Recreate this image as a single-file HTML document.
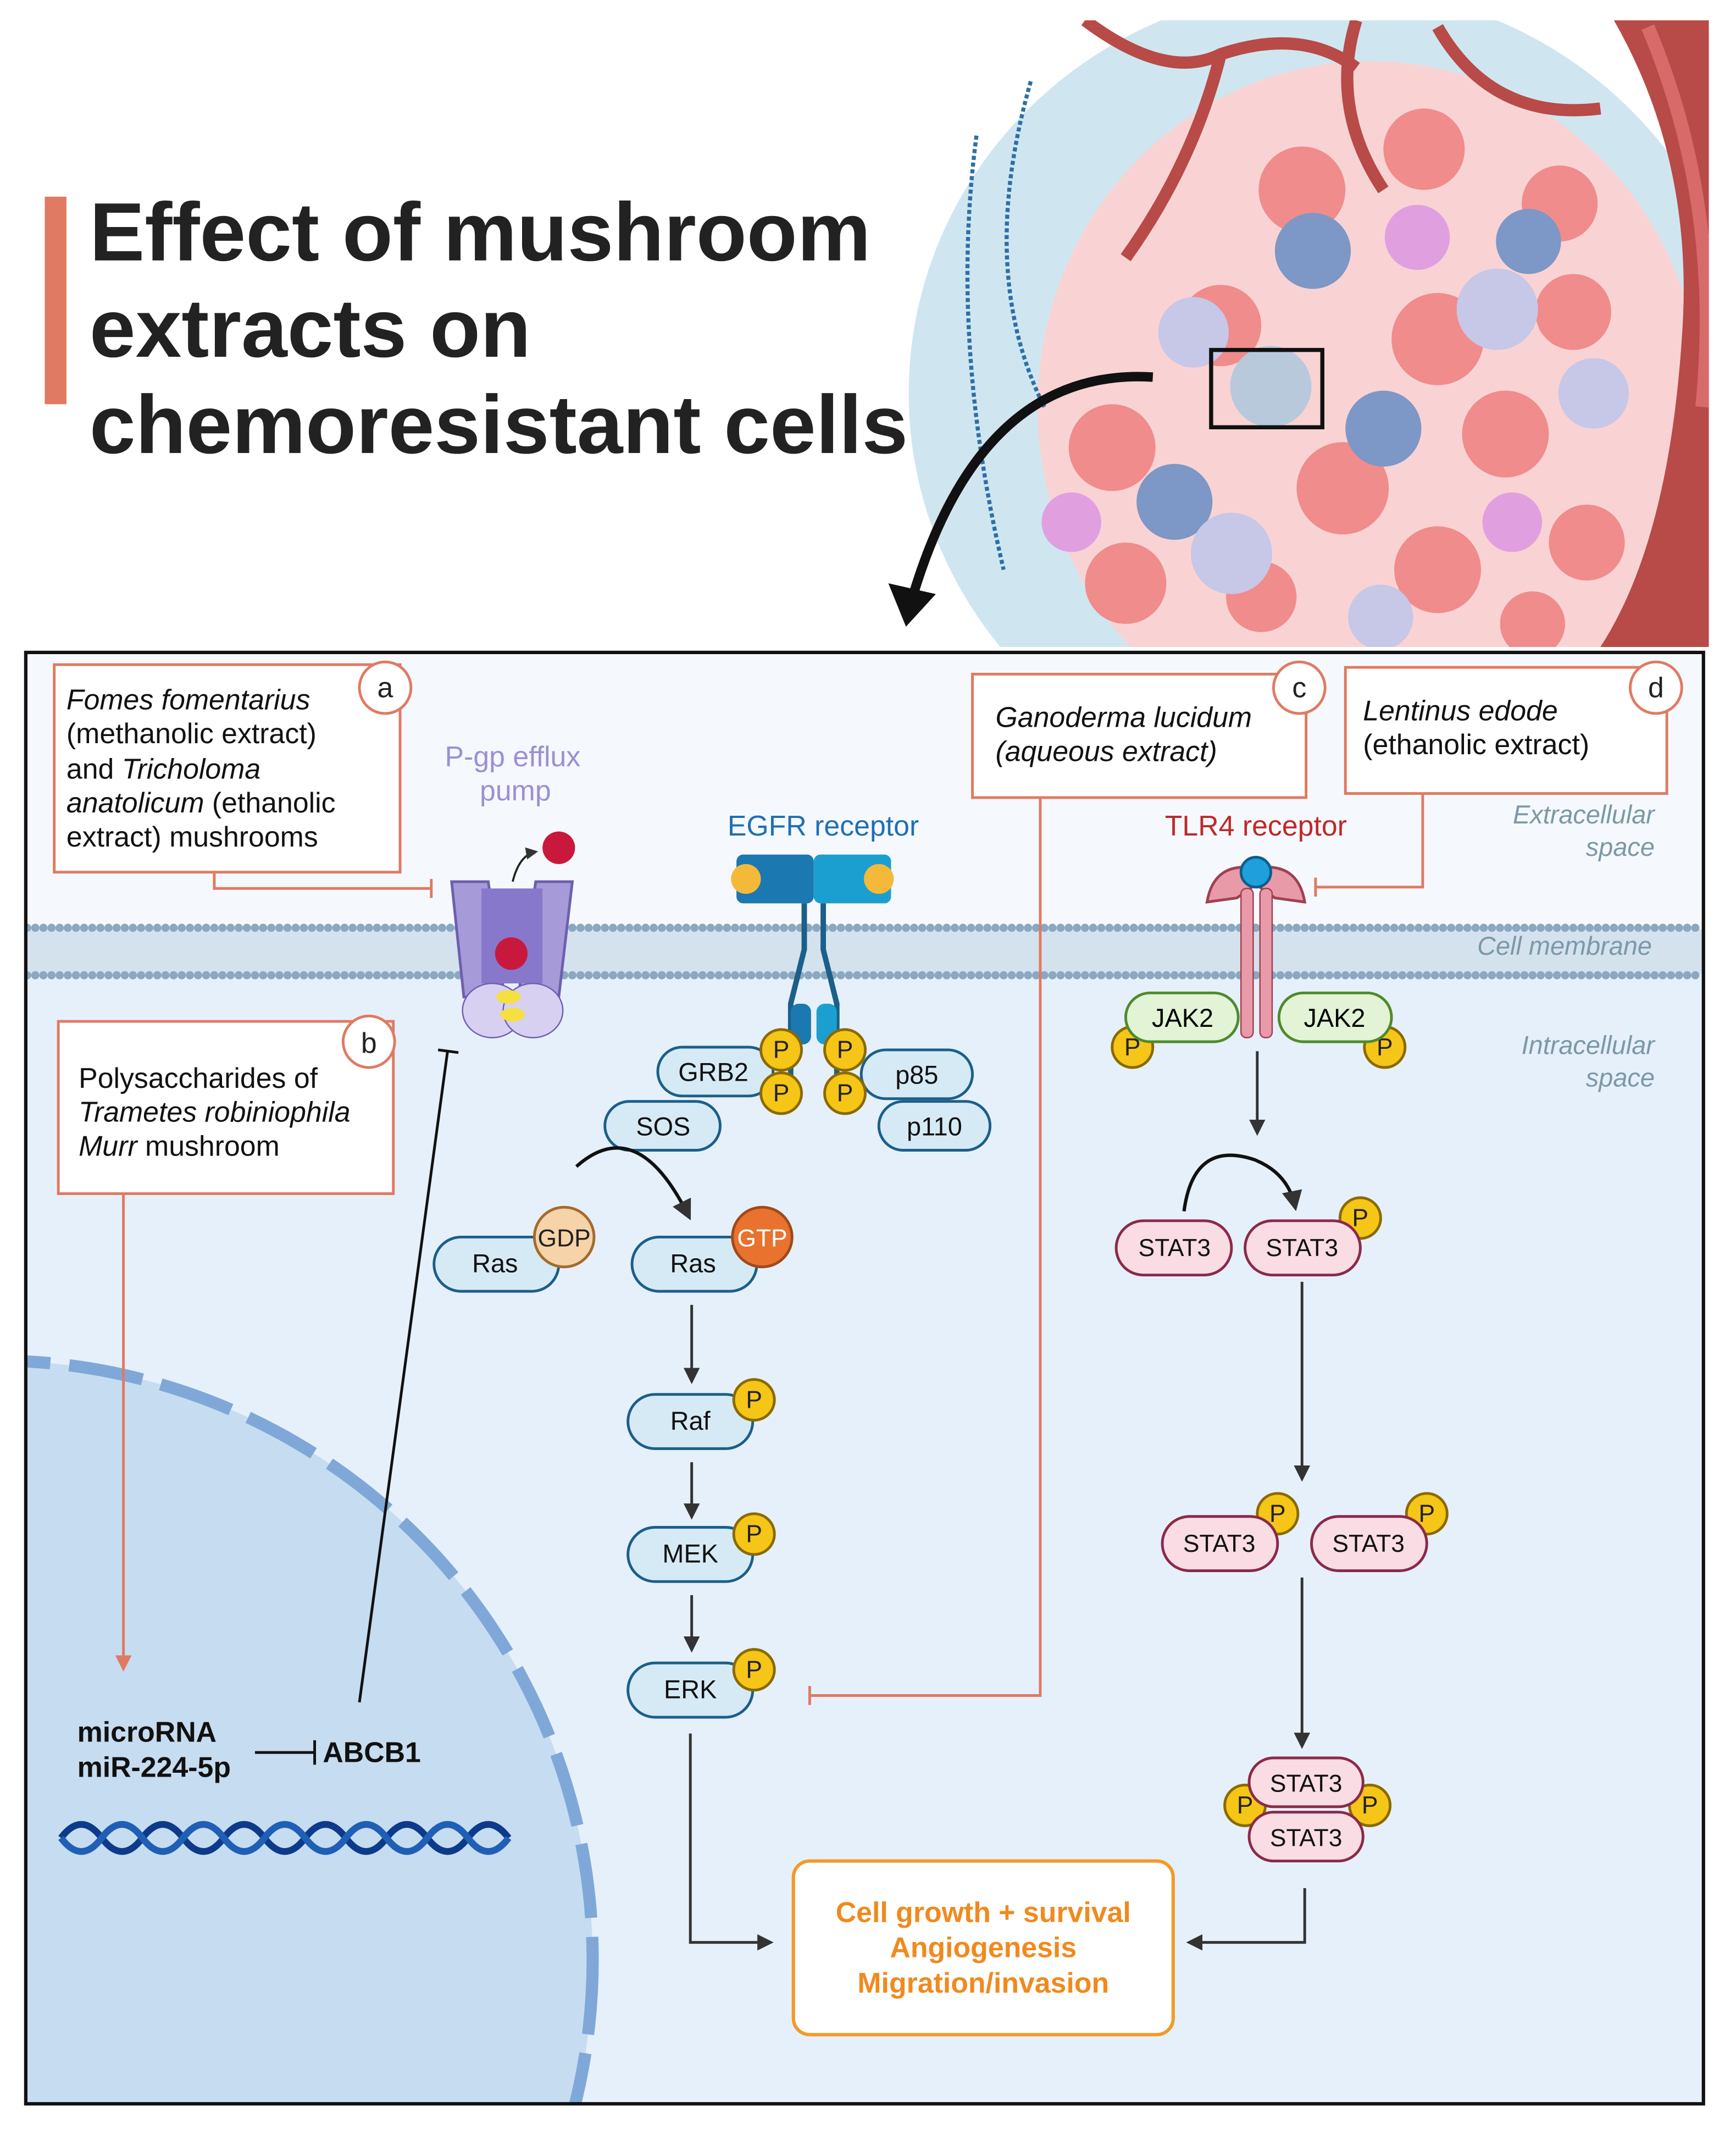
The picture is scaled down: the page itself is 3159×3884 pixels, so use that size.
<!DOCTYPE html>
<html><head><meta charset="utf-8"><style>
html,body{margin:0;padding:0;background:#fff;width:3159px;height:3884px;overflow:hidden}
svg{display:block}
text{font-family:"Liberation Sans",sans-serif}
</style></head><body>
<svg width="3159" height="3884" viewBox="0 0 1280 1574" preserveAspectRatio="none" xmlns="http://www.w3.org/2000/svg">
<defs>
<marker id="ah" viewBox="0 0 10 10" refX="8" refY="5" markerWidth="6" markerHeight="6" orient="auto"><path d="M0,0L10,5L0,10z" fill="#333"/></marker>
<marker id="aho" viewBox="0 0 10 10" refX="8" refY="5" markerWidth="6" markerHeight="6" orient="auto"><path d="M0,0L10,5L0,10z" fill="#e07a62"/></marker>
<clipPath id="bx"><rect x="20" y="482" width="1235" height="1068"/></clipPath>
<clipPath id="tum"><rect x="660" y="15" width="600" height="462"/></clipPath>
</defs>
<rect width="1280" height="1574" fill="#fff"/>
<rect x="33" y="145" width="16" height="153" fill="#e07a62"/>
<text x="66" y="192" font-size="61" font-weight="bold" fill="#222">Effect of mushroom</text>
<text x="66" y="263" font-size="61" font-weight="bold" fill="#222">extracts on</text>
<text x="66" y="334" font-size="61" font-weight="bold" fill="#222">chemoresistant cells</text>
<g clip-path="url(#tum)">
<ellipse cx="980" cy="290" rx="310" ry="300" fill="#cfe6f0"/>
<ellipse cx="1010" cy="300" rx="245" ry="255" fill="#f9d3d3"/>
<path d="M1190,15 Q1250,120 1240,250 Q1230,400 1180,477 L1260,477 L1260,15z" fill="#b84a48"/>
<path d="M1215,20 Q1270,150 1255,300" stroke="#d96a6a" stroke-width="10" fill="none"/>
<g fill="#f08c8c">
<circle cx="960" cy="140" r="32"/><circle cx="1050" cy="110" r="30"/><circle cx="1150" cy="150" r="28"/><circle cx="900" cy="240" r="30"/><circle cx="1060" cy="250" r="34"/><circle cx="1160" cy="230" r="28"/><circle cx="820" cy="330" r="32"/><circle cx="1110" cy="320" r="32"/><circle cx="990" cy="360" r="34"/><circle cx="1060" cy="420" r="32"/><circle cx="830" cy="430" r="30"/><circle cx="1170" cy="400" r="28"/><circle cx="930" cy="440" r="26"/><circle cx="1130" cy="460" r="24"/>
</g>
<g fill="#7d97c6"><circle cx="968" cy="185" r="28"/><circle cx="1020" cy="316" r="28"/><circle cx="866" cy="370" r="28"/><circle cx="1127" cy="178" r="24"/></g>
<g fill="#c7c7e8"><circle cx="1104" cy="228" r="30"/><circle cx="908" cy="408" r="30"/><circle cx="880" cy="245" r="26"/><circle cx="1175" cy="290" r="26"/><circle cx="1018" cy="455" r="24"/></g>
<g fill="#e0a0e0"><circle cx="1045" cy="175" r="24"/><circle cx="790" cy="385" r="22"/><circle cx="1115" cy="385" r="22"/></g>
<circle cx="937" cy="285" r="30" fill="#b9c9dc"/>
<path d="M800,15 Q860,60 900,40 Q960,20 1000,50 M1000,15 Q980,80 1020,140 M900,40 Q880,120 830,190 M1060,20 Q1100,90 1180,80" stroke="#b84a48" stroke-width="9" fill="none"/>
<path d="M720,100 Q700,250 740,420 M760,60 Q720,200 770,300" stroke="#2d6fa8" stroke-width="3" stroke-dasharray="3 2" fill="none"/>
<rect x="893" y="258" width="82" height="57" fill="none" stroke="#111" stroke-width="3"/>
</g>
<path d="M850,278 Q720,270 670,450" stroke="#111" stroke-width="7" fill="none"/>
<path d="M655,430 L668,462 L690,438z" fill="#111"/>
<g clip-path="url(#bx)">
<rect x="20" y="482" width="1235" height="1068" fill="#f5f9fd"/>
<rect x="20" y="700" width="1235" height="850" fill="#e6f0fa"/>
<circle cx="-5" cy="1445" r="442" fill="#c6dcf0"/>
<circle cx="-5" cy="1445" r="442" fill="none" stroke="#7fa8d8" stroke-width="9" stroke-dasharray="55 14"/>
<rect x="20" y="685" width="1235" height="33" fill="#d4e2ee"/>
<line x1="20" y1="684" x2="1255" y2="684" stroke="#8aa8c0" stroke-width="6" stroke-dasharray="0 6" stroke-linecap="round"/>
<line x1="20" y1="719" x2="1255" y2="719" stroke="#8aa8c0" stroke-width="6" stroke-dasharray="0 6" stroke-linecap="round"/>
</g>
<rect x="19" y="481" width="1237" height="1070" fill="none" stroke="#111" stroke-width="2.5"/>
<text x="1220" y="607" font-size="19" font-style="italic" fill="#7c98a8" text-anchor="end">Extracellular</text>
<text x="1220" y="631" font-size="19" font-style="italic" fill="#7c98a8" text-anchor="end">space</text>
<text x="1218" y="704" font-size="19" font-style="italic" fill="#7c98a8" text-anchor="end">Cell membrane</text>
<text x="1220" y="777" font-size="19" font-style="italic" fill="#7c98a8" text-anchor="end">Intracellular</text>
<text x="1220" y="801" font-size="19" font-style="italic" fill="#7c98a8" text-anchor="end">space</text>
<g fill="#fff" stroke="#e07a62" stroke-width="2">
<rect x="40" y="490" width="255" height="153"/>
<rect x="43" y="753" width="247" height="127"/>
<rect x="717" y="497" width="246" height="91"/>
<rect x="992" y="492" width="237" height="93"/>
<circle cx="284" cy="507" r="19"/><circle cx="272" cy="768" r="19"/><circle cx="958" cy="507" r="19"/><circle cx="1221" cy="507" r="19"/>
</g>
<g font-size="21" fill="#222" text-anchor="middle"><text x="284" y="514">a</text><text x="272" y="776">b</text><text x="958" y="514">c</text><text x="1221" y="514">d</text></g>
<g font-size="21" fill="#111">
<text x="49" y="523" font-style="italic">Fomes fomentarius</text>
<text x="49" y="548">(methanolic extract)</text>
<text x="49" y="574">and <tspan font-style="italic">Tricholoma</tspan></text>
<text x="49" y="599"><tspan font-style="italic">anatolicum</tspan> (ethanolic</text>
<text x="49" y="624">extract) mushrooms</text>
<text x="58" y="802">Polysaccharides of</text>
<text x="58" y="827" font-style="italic">Trametes robiniophila</text>
<text x="58" y="852"><tspan font-style="italic">Murr</tspan> mushroom</text>
<text x="734" y="536" font-style="italic">Ganoderma lucidum</text>
<text x="734" y="561" font-style="italic">(aqueous extract)</text>
<text x="1005" y="531" font-style="italic">Lentinus edode</text>
<text x="1005" y="556">(ethanolic extract)</text>
</g>
<g stroke="#e07a62" stroke-width="2" fill="none">
<polyline points="158,643 158,655 318,655"/><line x1="318" y1="648" x2="318" y2="662"/>
<polyline points="767,588 767,1250 597,1250"/><line x1="597" y1="1243" x2="597" y2="1257"/>
<polyline points="1049,585 1049,654 970,654"/><line x1="970" y1="647" x2="970" y2="661"/>
<line x1="91" y1="880" x2="91" y2="1230" marker-end="url(#aho)"/>
</g>
<text x="378" y="565" font-size="21" fill="#9b8fd6" text-anchor="middle">P-gp efflux</text>
<text x="380" y="590" font-size="21" fill="#9b8fd6" text-anchor="middle">pump</text>
<path d="M333,650 L360,650 L372,735 L342,735z" fill="#a79ad8" stroke="#6d5fb0" stroke-width="2"/>
<path d="M395,650 L422,650 L412,735 L382,735z" fill="#a79ad8" stroke="#6d5fb0" stroke-width="2"/>
<rect x="355" y="655" width="45" height="70" fill="#8878cc"/>
<ellipse cx="363" cy="745" rx="22" ry="20" fill="#d8d0f0" stroke="#6d5fb0"/>
<ellipse cx="393" cy="745" rx="22" ry="20" fill="#d8d0f0" stroke="#6d5fb0"/>
<ellipse cx="375" cy="735" rx="9" ry="5" fill="#f5e040"/><ellipse cx="378" cy="748" rx="9" ry="5" fill="#f5e040"/>
<circle cx="377" cy="703" r="12" fill="#c8193c"/><circle cx="412" cy="625" r="12" fill="#c8193c"/>
<path d="M378,650 Q383,630 395,628" stroke="#222" stroke-width="1.5" fill="none" marker-end="url(#ah)"/>
<line x1="265" y1="1255" x2="330" y2="775" stroke="#111" stroke-width="2"/><line x1="323" y1="774" x2="338" y2="776" stroke="#111" stroke-width="2"/>
<text x="607" y="616" font-size="21" fill="#1f6fb5" text-anchor="middle">EGFR receptor</text>
<rect x="543" y="630" width="57" height="36" rx="5" fill="#1b78b0"/><rect x="600" y="630" width="57" height="36" rx="5" fill="#1b9fd0"/>
<circle cx="550" cy="648" r="11" fill="#f5b93a"/><circle cx="648" cy="648" r="11" fill="#f5b93a"/>
<path d="M593,666 L593,700 L583,740 L583,800 M607,666 L607,700 L617,740 L617,800" stroke="#1b5f8a" stroke-width="4" fill="none"/>
<rect x="583" y="740" width="15" height="30" rx="6" fill="#1b78b0"/><rect x="602" y="740" width="15" height="30" rx="6" fill="#1b9fd0"/>
<g fill="#d6eaf6" stroke="#1b5f8a" stroke-width="2">
<rect x="485" y="772" width="85" height="36" rx="18"/><rect x="446" y="812" width="85" height="36" rx="18"/>
<rect x="635" y="774" width="82" height="36" rx="18"/><rect x="648" y="812" width="82" height="36" rx="18"/>
<rect x="320" y="912" width="92" height="40" rx="20"/><rect x="466" y="912" width="92" height="40" rx="20"/>
<rect x="463" y="1028" width="92" height="40" rx="20"/><rect x="463" y="1126" width="92" height="40" rx="20"/><rect x="463" y="1226" width="92" height="40" rx="20"/>
</g>
<g font-size="19" fill="#111" text-anchor="middle">
<text x="526" y="797">GRB2</text><text x="489" y="837">SOS</text><text x="676" y="799">p85</text><text x="689" y="837">p110</text>
<text x="365" y="938">Ras</text><text x="511" y="938">Ras</text><text x="509" y="1054">Raf</text><text x="509" y="1152">MEK</text><text x="509" y="1252">ERK</text>
</g>
<circle cx="416" cy="912" r="22" fill="#f6d3a8" stroke="#a56a2c" stroke-width="2"/><text x="416" y="919" font-size="18" text-anchor="middle" fill="#222">GDP</text>
<circle cx="562" cy="912" r="22" fill="#e8722e" stroke="#a04a1a" stroke-width="2"/><text x="562" y="919" font-size="18" text-anchor="middle" fill="#fff">GTP</text>
<path d="M425,860 Q470,820 508,897" stroke="#111" stroke-width="2.5" fill="none" marker-end="url(#ah)"/>
<g stroke="#333" stroke-width="2" marker-end="url(#ah)"><line x1="510" y1="962" x2="510" y2="1018"/><line x1="510" y1="1078" x2="510" y2="1118"/><line x1="510" y1="1176" x2="510" y2="1216"/></g>
<polyline points="509,1278 509,1432 568,1432" stroke="#333" stroke-width="2" fill="none" marker-end="url(#ah)"/>
<g fill="#f5c518" stroke="#8a6a00" stroke-width="2">
<circle cx="576" cy="774" r="15"/><circle cx="576" cy="806" r="15"/><circle cx="623" cy="774" r="15"/><circle cx="623" cy="806" r="15"/>
<circle cx="556" cy="1032" r="15"/><circle cx="556" cy="1131" r="15"/><circle cx="556" cy="1231" r="15"/>
<circle cx="835" cy="772" r="15"/><circle cx="1021" cy="772" r="15"/>
<circle cx="1003" cy="898" r="15"/><circle cx="942" cy="1116" r="15"/><circle cx="1052" cy="1116" r="15"/>
<circle cx="918" cy="1331" r="15"/><circle cx="1010" cy="1331" r="15"/>
</g>
<g font-size="18" fill="#222" text-anchor="middle">
<text x="576" y="780">P</text><text x="576" y="812">P</text><text x="623" y="780">P</text><text x="623" y="812">P</text>
<text x="556" y="1038">P</text><text x="556" y="1137">P</text><text x="556" y="1237">P</text>
<text x="835" y="778">P</text><text x="1021" y="778">P</text><text x="1003" y="904">P</text><text x="942" y="1122">P</text><text x="1052" y="1122">P</text>
<text x="918" y="1337">P</text><text x="1010" y="1337">P</text>
</g>
<text x="926" y="616" font-size="21" fill="#c0282a" text-anchor="middle">TLR4 receptor</text>
<path d="M890,665 Q895,635 926,640 Q957,635 962,665 L940,662 L926,652 L912,662z" fill="#e89aa8" stroke="#a04050" stroke-width="2"/>
<rect x="915" y="655" width="9" height="110" rx="4" fill="#e89aa8" stroke="#a04050"/><rect x="929" y="655" width="9" height="110" rx="4" fill="#e89aa8" stroke="#a04050"/>
<circle cx="926" cy="643" r="11" fill="#1fa0dc" stroke="#0d5f8a" stroke-width="2"/>
<rect x="830" y="732" width="83" height="36" rx="18" fill="#e2f3d6" stroke="#4f8a2c" stroke-width="2"/>
<rect x="943" y="732" width="83" height="36" rx="18" fill="#e2f3d6" stroke="#4f8a2c" stroke-width="2"/>
<text x="872" y="757" font-size="19" text-anchor="middle">JAK2</text><text x="984" y="757" font-size="19" text-anchor="middle">JAK2</text>
<line x1="927" y1="775" x2="927" y2="835" stroke="#333" stroke-width="2" marker-end="url(#ah)"/>
<g fill="#f9dce4" stroke="#8a2a48" stroke-width="2">
<rect x="823" y="900" width="85" height="40" rx="20"/><rect x="918" y="900" width="85" height="40" rx="20"/>
<rect x="857" y="1118" width="85" height="40" rx="20"/><rect x="967" y="1118" width="85" height="40" rx="20"/>
<rect x="921" y="1296" width="84" height="36" rx="18"/><rect x="921" y="1336" width="84" height="36" rx="18"/>
</g>
<g font-size="18" fill="#111" text-anchor="middle">
<text x="866" y="926">STAT3</text><text x="960" y="926">STAT3</text><text x="899" y="1144">STAT3</text><text x="1009" y="1144">STAT3</text>
<text x="963" y="1321">STAT3</text><text x="963" y="1361">STAT3</text>
</g>
<path d="M873,893 Q880,840 925,855 Q950,865 955,890" stroke="#111" stroke-width="2.5" fill="none" marker-end="url(#ah)"/>
<g stroke="#333" stroke-width="2" marker-end="url(#ah)"><line x1="960" y1="945" x2="960" y2="1090"/><line x1="960" y1="1163" x2="960" y2="1287"/></g>
<polyline points="962,1392 962,1432 877,1432" stroke="#333" stroke-width="2" fill="none" marker-end="url(#ah)"/>
<rect x="585" y="1372" width="280" height="128" rx="12" fill="#fff" stroke="#f39a2a" stroke-width="2.5"/>
<g font-size="21" font-weight="bold" fill="#f08a1e" text-anchor="middle">
<text x="725" y="1417">Cell growth + survival</text><text x="725" y="1443">Angiogenesis</text><text x="725" y="1469">Migration/invasion</text>
</g>
<text x="57" y="1284" font-size="21" font-weight="bold" fill="#111">microRNA</text>
<text x="57" y="1310" font-size="21" font-weight="bold" fill="#111">miR-224-5p</text>
<line x1="188" y1="1292" x2="232" y2="1292" stroke="#111" stroke-width="2"/><line x1="232" y1="1283" x2="232" y2="1301" stroke="#111" stroke-width="2"/>
<text x="238" y="1299" font-size="21" font-weight="bold" fill="#111">ABCB1</text>
<path d="M45,1355 Q60,1335 75,1355 T105,1355 T135,1355 T165,1355 T195,1355 T225,1355 T255,1355 T285,1355 T315,1355 T345,1355 T375,1355" stroke="#0d3a8a" stroke-width="5" fill="none"/>
<path d="M45,1355 Q60,1375 75,1355 T105,1355 T135,1355 T165,1355 T195,1355 T225,1355 T255,1355 T285,1355 T315,1355 T345,1355 T375,1355" stroke="#1f5fb5" stroke-width="5" fill="none"/>
</svg>
</body></html>
